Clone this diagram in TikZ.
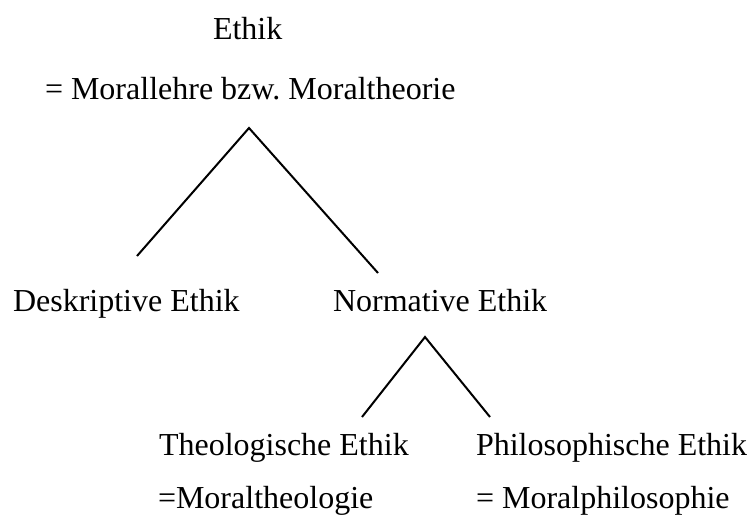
\documentclass[tikz,border=0pt]{standalone}
\usepackage{fontspec}
\setmainfont{Liberation Serif}
\frenchspacing
\begin{document}
\begin{tikzpicture}[x=1pt,y=-1pt,
  lbl/.style={anchor=base west,inner sep=0pt,outer sep=0pt,font=\fontsize{32}{38}\selectfont},
  branch/.style={line width=2pt,line cap=butt,line join=miter}]
\useasboundingbox (0,0) rectangle (749,517);
\node[lbl] (ethik) at (213,39) {Ethik};
\node[lbl] (moral) at (45,99) {= Morallehre bzw. Moraltheorie};
\node[lbl] (desk) at (13,311) {Deskriptive Ethik};
\node[lbl] (norm) at (333,311) {Normative Ethik};
\node[lbl] (theo) at (159,455) {Theologische Ethik};
\node[lbl] (philo) at (476,455) {Philosophische Ethik};
\node[lbl] (mtheo) at (158,508) {=Moraltheologie};
\node[lbl] (mphilo) at (476,508) {= Moralphilosophie};
\coordinate (apexA) at (249,128);
\coordinate (endAL) at (137,256);
\coordinate (endAR) at (378,273);
\coordinate (apexB) at (425,337);
\coordinate (endBL) at (362,417);
\coordinate (endBR) at (490,417);
\draw[branch] (endAL) -- (apexA) -- (endAR);
\draw[branch] (endBL) -- (apexB) -- (endBR);
\end{tikzpicture}
\end{document}
